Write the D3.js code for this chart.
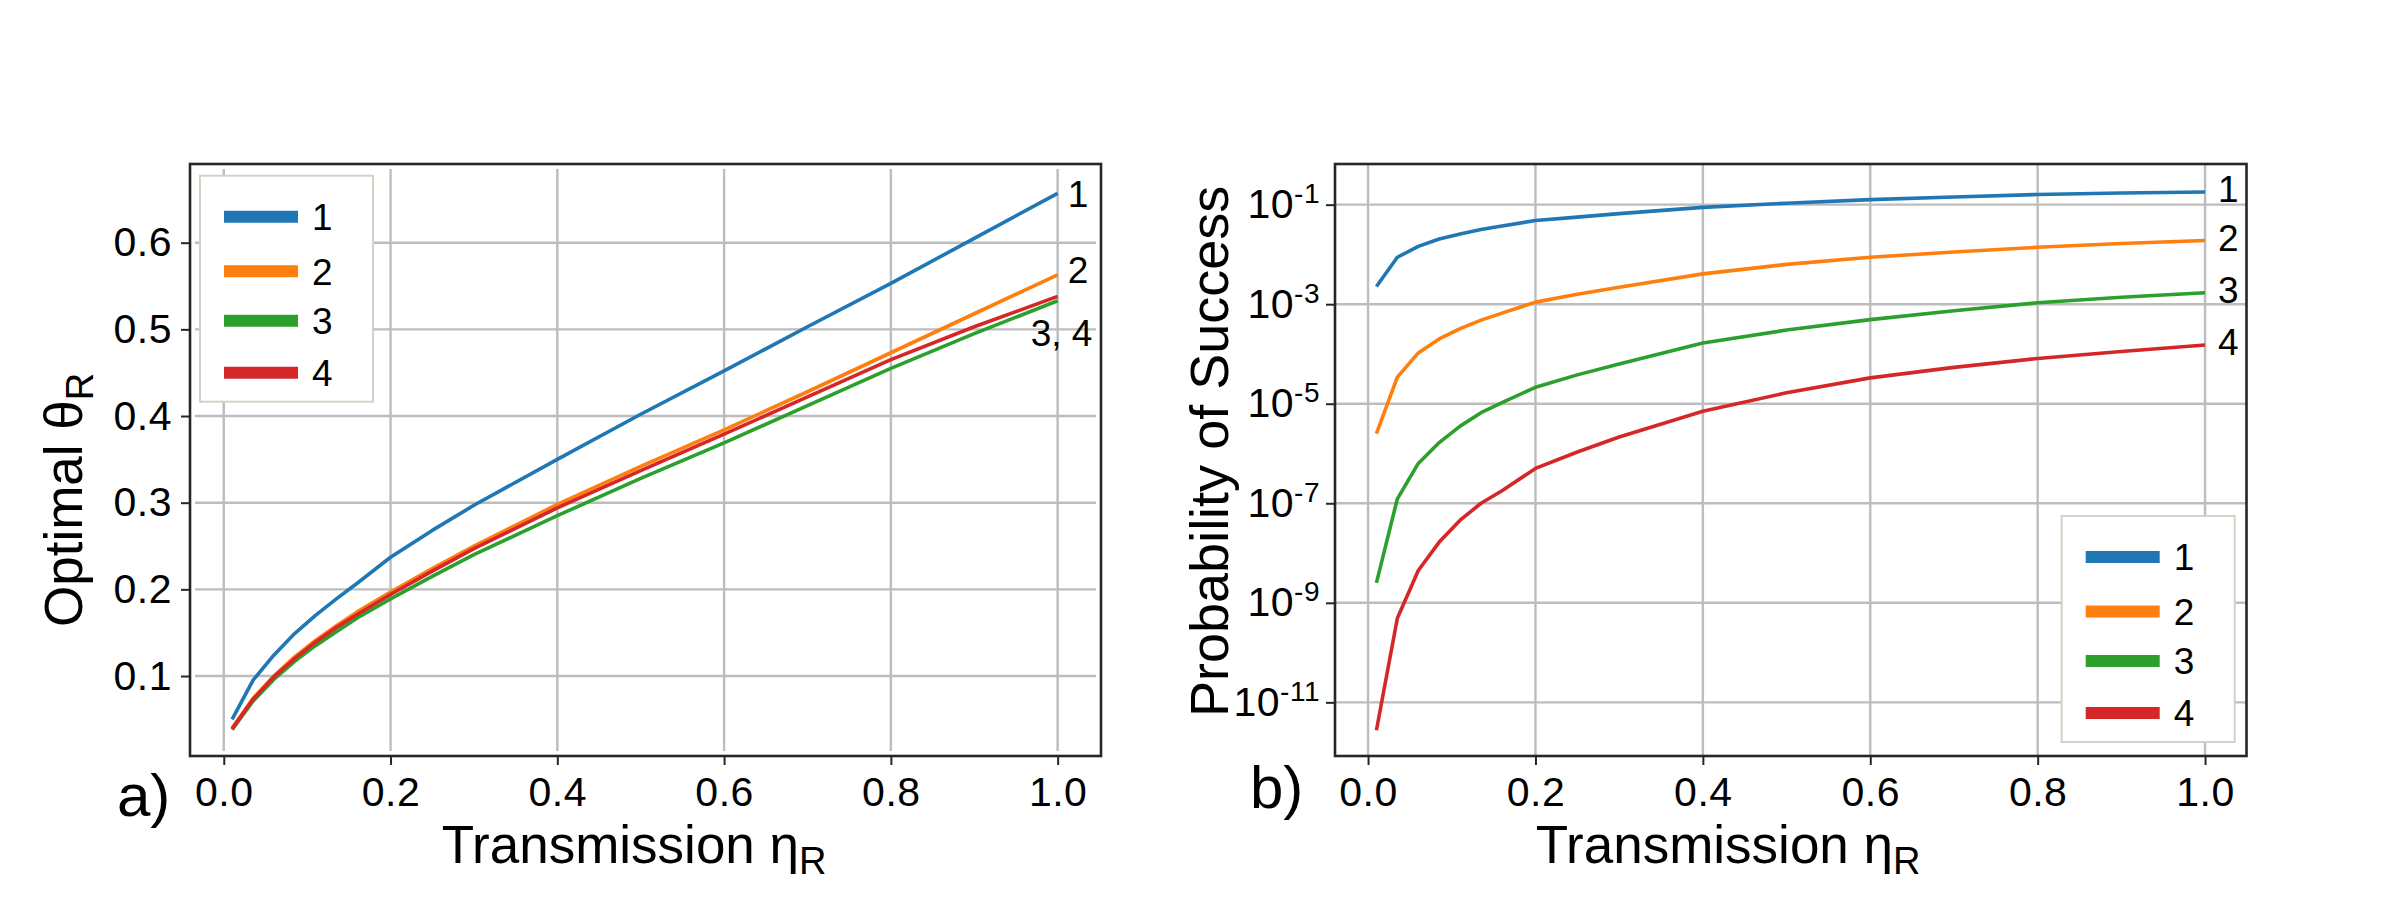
<!DOCTYPE html>
<html>
<head>
<meta charset="utf-8">
<script src="https://cdn.jsdelivr.net/npm/d3@7"></script>
<style>
  html, body { margin: 0; padding: 0; background: #fff; }
  svg { display: block; font-family: "Liberation Sans", Arial, sans-serif; }
</style>
</head>
<body>
<svg id="chart" width="2392" height="906"></svg>
<script>
// transmission values the curves were sampled at
const eta = [0.01, 0.035, 0.06, 0.085, 0.11, 0.135, 0.16, 0.2, 0.25, 0.3, 0.4, 0.5, 0.6, 0.7, 0.8, 0.9, 1.0];

const seriesNames = ["1", "2", "3", "4"];
const colors = ["#1f77b4", "#ff7f0e", "#2ca02c", "#d62728"];

// panel a) optimal theta_R
const theta1 = [0.050, 0.095, 0.124, 0.149, 0.170, 0.189, 0.207, 0.237, 0.268, 0.297, 0.350, 0.402, 0.452, 0.503, 0.553, 0.605, 0.657];
const theta2 = [0.040, 0.074, 0.100, 0.122, 0.141, 0.158, 0.174, 0.197, 0.224, 0.250, 0.298, 0.342, 0.384, 0.428, 0.473, 0.518, 0.563];
const theta3 = [0.038, 0.071, 0.096, 0.117, 0.135, 0.151, 0.167, 0.189, 0.215, 0.240, 0.285, 0.328, 0.369, 0.412, 0.455, 0.495, 0.533];
const theta4 = [0.039, 0.073, 0.099, 0.120, 0.139, 0.156, 0.171, 0.194, 0.221, 0.247, 0.294, 0.337, 0.379, 0.422, 0.465, 0.503, 0.538];

// panel b) probability of success
const prob1 = [2.26e-3, 8.77e-3, 1.45e-2, 2.04e-2, 2.57e-2, 3.16e-2, 3.72e-2, 4.79e-2, 5.62e-2, 6.61e-2, 8.83e-2, 0.107, 0.126, 0.143, 0.160, 0.171, 0.180];
const prob2 = [2.51e-6, 3.42e-5, 1.05e-4, 2.00e-4, 3.24e-4, 4.79e-4, 6.61e-4, 1.10e-3, 1.58e-3, 2.19e-3, 4.07e-3, 6.31e-3, 8.77e-3, 1.12e-2, 1.39e-2, 1.66e-2, 1.91e-2];
const prob3 = [2.51e-9, 1.23e-7, 6.31e-7, 1.66e-6, 3.55e-6, 6.61e-6, 1.05e-5, 2.14e-5, 3.80e-5, 6.31e-5, 1.66e-4, 3.02e-4, 4.90e-4, 7.41e-4, 1.07e-3, 1.38e-3, 1.70e-3];
const prob4 = [2.75e-12, 4.90e-10, 4.47e-9, 1.66e-8, 4.57e-8, 1.00e-7, 1.78e-7, 5.01e-7, 1.07e-6, 2.14e-6, 7.08e-6, 1.66e-5, 3.31e-5, 5.37e-5, 8.13e-5, 1.12e-4, 1.51e-4];

const xTicks = [0, 0.2, 0.4, 0.6, 0.8, 1.0];
const thetaTicks = [0.1, 0.2, 0.3, 0.4, 0.5, 0.6];
const probTicks = [1e-11, 1e-9, 1e-7, 1e-5, 1e-3, 1e-1];

const thetaSeries = [theta1, theta2, theta3, theta4];
const probSeries = [prob1, prob2, prob3, prob4];

const svg = d3.select("#chart");
const frameColor = "#262626";
const gridColor = "#bdbdbd";

const A = { left: 190, right: 1101, top: 164, bottom: 756 };
const B = { left: 1335, right: 2246.5, top: 164, bottom: 756 };

const xA = d3.scaleLinear().domain([-0.0405, 1.052]).range([A.left, A.right]);
const yA = d3.scaleLinear().domain([0.0077, 0.6908]).range([A.bottom, A.top]);
const xB = d3.scaleLinear().domain([-0.0395, 1.0495]).range([B.left, B.right]);
const yB = d3.scaleLog().domain([Math.pow(10, -12.078), Math.pow(10, -0.183)]).range([B.bottom, B.top]);

function styleAxis(g) {
    g.select(".domain").remove();
    g.selectAll(".tick line").attr("stroke", frameColor).attr("stroke-width", 2);
    g.selectAll(".tick text").attr("fill", "#000").attr("font-size", 41)
        .attr("letter-spacing", 0.5)
        .attr("font-family", "Liberation Sans, Arial, sans-serif");
}

function drawPanel(box, x, y, yTicks, series, inset) {
    const g = svg.append("g");

    // grid
    g.append("g").selectAll("line").data(xTicks).enter().append("line")
        .attr("x1", d => x(d)).attr("x2", d => x(d))
        .attr("y1", box.top + inset).attr("y2", box.bottom - inset)
        .attr("stroke", gridColor).attr("stroke-width", 2.4);
    g.append("g").selectAll("line").data(yTicks).enter().append("line")
        .attr("x1", box.left + inset).attr("x2", box.right - inset)
        .attr("y1", d => y(d)).attr("y2", d => y(d))
        .attr("stroke", gridColor).attr("stroke-width", 2.4);

    // curves
    const line = d3.line().x(d => x(d[0])).y(d => y(d[1]));
    series.forEach((vals, i) => {
        g.append("path")
            .datum(eta.map((e, k) => [e, vals[k]]))
            .attr("d", line)
            .attr("fill", "none")
            .attr("stroke", colors[i])
            .attr("stroke-width", 3.6)
            .attr("stroke-linejoin", "round");
    });

    // frame
    g.append("rect")
        .attr("x", box.left).attr("y", box.top)
        .attr("width", box.right - box.left).attr("height", box.bottom - box.top)
        .attr("fill", "none").attr("stroke", frameColor).attr("stroke-width", 2.6);

    // x axis
    g.append("g")
        .attr("transform", `translate(0,${box.bottom})`)
        .call(d3.axisBottom(x).tickValues(xTicks).tickFormat(d3.format(".1f"))
            .tickSize(9).tickPadding(12).tickSizeOuter(0))
        .call(styleAxis);
    return g;
}

// ---- panel a
drawPanel(A, xA, yA, thetaTicks, thetaSeries, 5);
svg.append("g")
    .attr("transform", `translate(${A.left},0)`)
    .call(d3.axisLeft(yA).tickValues(thetaTicks).tickFormat(d3.format(".1f"))
        .tickSize(9).tickPadding(9).tickSizeOuter(0))
    .call(styleAxis);

// ---- panel b
drawPanel(B, xB, yB, probTicks, probSeries, 0);
svg.append("g")
    .attr("transform", `translate(${B.left},0)`)
    .call(d3.axisLeft(yB).tickValues(probTicks).tickFormat(() => "")
        .tickSize(9).tickPadding(6).tickSizeOuter(0))
    .call(styleAxis)
    .selectAll(".tick text")
    .each(function (d) {
        const t = d3.select(this);
        t.append("tspan").text("10");
        t.append("tspan").attr("dy", -15).attr("font-size", 28)
            .text("-" + Math.abs(Math.round(Math.log10(d))));
    });

// ---- legends
function drawLegend(x0, y0) {
    const lg = svg.append("g").attr("transform", `translate(${x0},${y0})`);
    lg.append("rect").attr("width", 173).attr("height", 226)
        .attr("fill", "#fff").attr("stroke", "#cfd4c5").attr("stroke-width", 2);
    const rows = [41, 95.5, 145, 197];
    seriesNames.forEach((name, i) => {
        lg.append("line")
            .attr("x1", 24).attr("x2", 98)
            .attr("y1", rows[i]).attr("y2", rows[i])
            .attr("stroke", colors[i]).attr("stroke-width", 12);
        lg.append("text")
            .attr("x", 112).attr("y", rows[i]).attr("dy", "0.36em")
            .attr("font-size", 37).text(name);
    });
}
drawLegend(200, 175.7);
drawLegend(2061.7, 516);

// ---- end labels
const last = eta.length - 1;
const endA = [
    { text: "1", x: xA(1) + 10, y: yA(theta1[last]) },
    { text: "2", x: xA(1) + 10, y: yA(theta2[last]) - 5 },
    { text: "3, 4", x: xA(1) - 27, y: yA(theta3[last]) + 32 }
];
const endB = probSeries.map((s, i) => ({ text: seriesNames[i], x: xB(1) + 13, y: yB(s[last]) - 3 }));
svg.append("g").selectAll("text").data(endA.concat(endB)).enter().append("text")
    .attr("x", d => d.x).attr("y", d => d.y).attr("dy", "0.36em")
    .attr("font-size", 37).text(d => d.text);

// ---- axis titles
function xTitle(x0) {
    const t = svg.append("text").attr("x", x0).attr("y", 863).attr("font-size", 53);
    t.append("tspan").text("Transmission η");
    t.append("tspan").attr("font-size", 38).attr("dy", 11).text("R");
}
xTitle(441.7);
xTitle(1535.7);

const yt = svg.append("text").attr("transform", "translate(82,627) rotate(-90)").attr("font-size", 53);
yt.append("tspan").text("Optimal θ");
yt.append("tspan").attr("font-size", 38).attr("dy", 11).text("R");

svg.append("text").attr("transform", "translate(1228,717) rotate(-90)")
    .attr("font-size", 54).text("Probability of Success");

// ---- panel letters
svg.append("text").attr("x", 117).attr("y", 816).attr("font-size", 60).text("a)");
svg.append("text").attr("x", 1250).attr("y", 808).attr("font-size", 60).text("b)");
</script>
</body>
</html>
